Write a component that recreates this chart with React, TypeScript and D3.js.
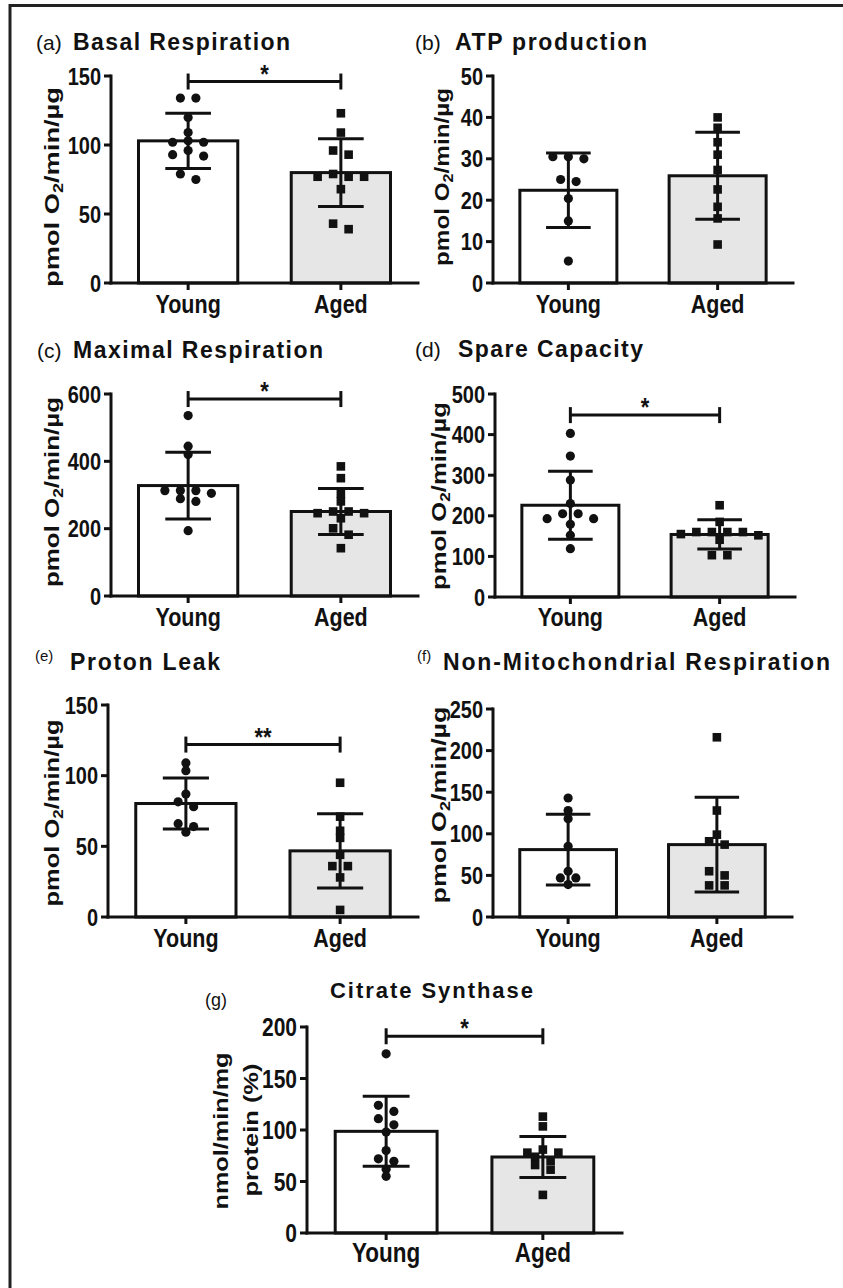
import * as d3 from "d3"

const groups = ["Young", "Aged"]
const tags = ["(a)", "(b)", "(c)", "(d)", "(e)", "(f)", "(g)"]
const titles = [
  "Basal Respiration",
  "ATP production",
  "Maximal Respiration",
  "Spare Capacity",
  "Proton Leak",
  "Non-Mitochondrial Respiration",
  "Citrate Synthase",
]
const yMax = [150, 50, 600, 500, 150, 250, 200]
const yTicks = [
  [0, 50, 100, 150],
  [0, 10, 20, 30, 40, 50],
  [0, 200, 400, 600],
  [0, 100, 200, 300, 400, 500],
  [0, 50, 100, 150],
  [0, 50, 100, 150, 200, 250],
  [0, 50, 100, 150, 200],
]

// bar heights and SD
const youngMean = [103, 22.4, 328, 226, 80.3, 81, 98.7]
const youngSD = [20, 9, 99, 84, 18, 42.5, 34]
const agedMean = [80, 25.9, 251, 154, 46.8, 87, 73.8]
const agedSD = [24.5, 10.5, 68, 36, 26.3, 57, 20]

const youngPoints = [
  [134, 134, 120, 109, 103, 102, 102, 96, 93, 92, 79, 75],
  [30.5, 30.5, 30, 25, 24.5, 20.4, 15, 5.3],
  [536, 445, 420, 313, 313, 313, 305, 289, 281, 194],
  [403, 347, 288, 230, 205, 205, 193, 193, 179, 152, 119],
  [109, 103.5, 87, 81.5, 78, 66, 64, 60],
  [143, 128, 118, 85, 55, 47, 47, 39],
  [174, 124, 118, 111, 105, 98, 80, 72, 69.6, 62, 55],
]
const agedPoints = [
  [123, 109, 96, 93, 79, 77, 77, 77, 68, 43, 39],
  [40, 37.5, 34, 31, 27.3, 22.6, 18.4, 15.6, 9.3],
  [385, 350, 304, 281, 251, 251, 246, 246, 231, 201, 182, 142],
  [226, 185, 160, 160, 160, 160, 155, 152, 141, 103, 103],
  [95, 71, 61, 56, 44, 36, 36, 28, 5],
  [216, 128, 99, 91, 87, 55, 50, 38, 38],
  [113, 103.5, 81, 78, 78, 74, 70, 66, 61.5, 37],
]

const sigLabels = ["*", "", "*", "*", "**", "", "*"]
const sigLevel = [146, 0, 585, 448, 122, 0, 191]

// panel placement on the page
const frames = [
  { x0: 111, x1: 418, top: 76, base: 283, tagX: 36, tagY: 50, tagSize: 21, titleX: 73, titleY: 50, titleW: 217, titleSize: 23, lx: 53, ly: 187, lw: 200, xly: 313, tick: 20 },
  { x0: 493, x1: 793, top: 76, base: 283, tagX: 415, tagY: 50, tagSize: 21, titleX: 455, titleY: 50, titleW: 192, titleSize: 23, lx: 443, ly: 177, lw: 178, xly: 313, tick: 20 },
  { x0: 111, x1: 418, top: 394, base: 596, tagX: 37, tagY: 358, tagSize: 21, titleX: 73, titleY: 358, titleW: 250, titleSize: 23, lx: 53, ly: 492, lw: 190, xly: 626, tick: 20 },
  { x0: 495, x1: 795, top: 394, base: 597, tagX: 415, tagY: 357, tagSize: 21, titleX: 458, titleY: 357, titleW: 185, titleSize: 23, lx: 440, ly: 496, lw: 188, xly: 626, tick: 20 },
  { x0: 108, x1: 418, top: 705, base: 917, tagX: 35, tagY: 661, tagSize: 15, titleX: 70, titleY: 670, titleW: 150, titleSize: 23, lx: 53, ly: 813, lw: 187, xly: 947, tick: 20 },
  { x0: 493, x1: 792, top: 709, base: 917, tagX: 417, tagY: 661, tagSize: 15, titleX: 443, titleY: 670, titleW: 387, titleSize: 23, lx: 440, ly: 805, lw: 197, xly: 947, tick: 20 },
  { x0: 307, x1: 622, top: 1027, base: 1233, tagX: 205, tagY: 1006, tagSize: 18, titleX: 330, titleY: 998, titleW: 203, titleSize: 22, lx: 222, ly: 1131, lw: 157, xly: 1262, tick: 21 },
]

const FONT = "'Liberation Sans', Arial, Helvetica, sans-serif"
const INK = "#111"
const SY = 1.2

// group close values into rows and spread each row around the centre
const swarm = (vals, y, spacing = 15.5, gap = 6.5) => {
  const rows = []
  ;[...vals]
    .sort((a, b) => b - a)
    .forEach((v) => {
      const py = y(v)
      const row = rows[rows.length - 1]
      if (row && py - row[0].py < gap) row.push({ v, py })
      else rows.push([{ v, py }])
    })
  const out = []
  rows.forEach((row) => {
    const n = row.length
    row.forEach((p, i) => {
      const k =
        n % 2
          ? Math.ceil(i / 2) * (i % 2 ? -1 : 1)
          : (Math.floor(i / 2) + 0.5) * (i % 2 ? 1 : -1)
      out.push({ py: p.py, dx: k * spacing })
    })
  })
  return out
}

const Txt = ({ x, y, size, bold = true, anchor = "start", len = null, sy = SY, children }) => (
  <text
    transform={`translate(${x},${y}) scale(1,${sy})`}
    fontSize={size}
    fontWeight={bold ? "bold" : "normal"}
    textAnchor={anchor}
    fill={INK}
    fontFamily={FONT}
    textLength={len || undefined}
    lengthAdjust={len ? "spacing" : undefined}
  >
    {children}
  </text>
)

const YLabel = ({ x, y, len, size = 21, children }) => (
  <text
    transform={`translate(${x},${y}) rotate(-90)`}
    y={size * 0.27}
    fontSize={size}
    fontWeight="bold"
    textAnchor="middle"
    fill={INK}
    fontFamily={FONT}
    textLength={len}
    lengthAdjust="spacingAndGlyphs"
  >
    {children}
  </text>
)

const Panel = ({ i }) => {
  const f = frames[i]
  const x = d3
    .scaleBand()
    .domain(groups)
    .range([f.x0, f.x1])
    .paddingInner(0.35)
    .paddingOuter(0.18)
  const y = d3.scaleLinear().domain([0, yMax[i]]).range([f.base, f.top])
  const bw = x.bandwidth()
  const cap = bw * 0.23
  const bars = [
    { g: "Young", mean: youngMean[i], sd: youngSD[i], pts: youngPoints[i], fill: "#fff" },
    { g: "Aged", mean: agedMean[i], sd: agedSD[i], pts: agedPoints[i], fill: "#e6e6e6" },
  ]
  const cx = (g) => x(g) + bw / 2

  return (
    <g>
      <Txt x={f.tagX} y={f.tagY} size={f.tagSize} bold={false} sy={1}>
        {tags[i]}
      </Txt>
      <Txt x={f.titleX} y={f.titleY} size={f.titleSize} len={f.titleW} sy={1}>
        {titles[i]}
      </Txt>

      {bars.map((b) => (
        <g key={b.g}>
          <rect
            x={x(b.g)}
            y={y(b.mean)}
            width={bw}
            height={f.base - y(b.mean)}
            fill={b.fill}
            stroke={INK}
            strokeWidth={3}
          />
          <line x1={cx(b.g)} x2={cx(b.g)} y1={y(b.mean + b.sd)} y2={y(b.mean - b.sd)} stroke={INK} strokeWidth={3} />
          <line x1={cx(b.g) - cap} x2={cx(b.g) + cap} y1={y(b.mean + b.sd)} y2={y(b.mean + b.sd)} stroke={INK} strokeWidth={3} />
          <line x1={cx(b.g) - cap} x2={cx(b.g) + cap} y1={y(b.mean - b.sd)} y2={y(b.mean - b.sd)} stroke={INK} strokeWidth={3} />
          {swarm(b.pts, y).map((p, j) =>
            b.g === "Young" ? (
              <circle key={j} cx={cx(b.g) + p.dx} cy={p.py} r={4.6} fill={INK} />
            ) : (
              <rect key={j} x={cx(b.g) + p.dx - 4.3} y={p.py - 4.3} width={8.6} height={8.6} fill={INK} />
            )
          )}
        </g>
      ))}

      {/* axes */}
      <line x1={f.x0} x2={f.x0} y1={y(yMax[i])} y2={f.base} stroke={INK} strokeWidth={3} strokeLinecap="square" />
      <line x1={f.x0} x2={f.x1} y1={f.base} y2={f.base} stroke={INK} strokeWidth={3} strokeLinecap="square" />
      {yTicks[i].map((t) => (
        <g key={t}>
          <line x1={f.x0 - 7} x2={f.x0} y1={y(t)} y2={y(t)} stroke={INK} strokeWidth={3} />
          <Txt x={f.x0 - 10} y={y(t) + f.tick * 0.36 * SY} size={f.tick} anchor="end">
            {t}
          </Txt>
        </g>
      ))}
      {groups.map((g) => (
        <g key={g}>
          <line x1={cx(g)} x2={cx(g)} y1={f.base} y2={f.base + 7} stroke={INK} strokeWidth={3} />
          <Txt x={cx(g)} y={f.xly} size={f.tick + 1.5} anchor="middle">
            {g}
          </Txt>
        </g>
      ))}

      {/* significance bracket */}
      {sigLabels[i] && (
        <g>
          <line x1={cx("Young")} x2={cx("Aged")} y1={y(sigLevel[i])} y2={y(sigLevel[i])} stroke={INK} strokeWidth={3} />
          <line x1={cx("Young")} x2={cx("Young")} y1={y(sigLevel[i]) - 8} y2={y(sigLevel[i]) + 8} stroke={INK} strokeWidth={3} />
          <line x1={cx("Aged")} x2={cx("Aged")} y1={y(sigLevel[i]) - 8} y2={y(sigLevel[i]) + 8} stroke={INK} strokeWidth={3} />
          <Txt x={(cx("Young") + cx("Aged")) / 2} y={y(sigLevel[i]) + 1} size={22} anchor="middle">
            {sigLabels[i]}
          </Txt>
        </g>
      )}

      {i < 6 ? (
        <YLabel x={f.lx} y={f.ly} len={f.lw} size={21}>
          pmol O
          <tspan fontSize={14} dy={4}>
            2
          </tspan>
          <tspan dy={-4}>/min/µg</tspan>
        </YLabel>
      ) : (
        <g>
          <YLabel x={f.lx} y={f.ly} len={f.lw} size={21}>
            nmol/min/mg
          </YLabel>
          <YLabel x={f.lx + 30} y={f.ly - 1} len={133} size={21}>
            protein (%)
          </YLabel>
        </g>
      )}
    </g>
  )
}

const App = () => (
  <div style={{ position: "absolute", left: 0, top: 0 }}>
    <svg width={843} height={1288} style={{ display: "block", background: "#fff" }}>
      <line x1={9} x2={843} y1={5.5} y2={5.5} stroke="#222" strokeWidth={3} />
      <line x1={10} x2={10} y1={4} y2={1288} stroke="#222" strokeWidth={3} />
      {frames.map((_, i) => (
        <Panel key={i} i={i} />
      ))}
    </svg>
  </div>
)

export default App
